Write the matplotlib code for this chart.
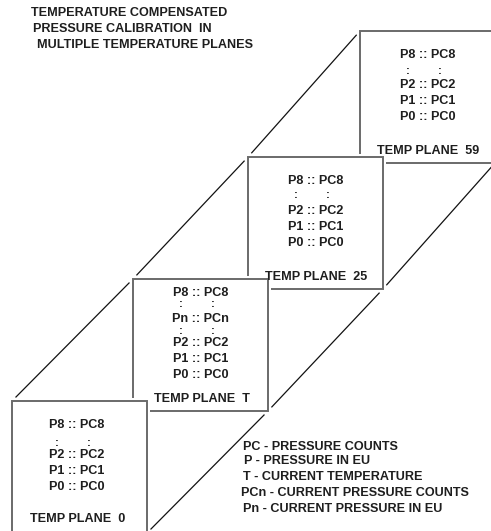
import matplotlib
matplotlib.use("Agg")
import matplotlib.pyplot as plt
from matplotlib.patches import Rectangle
import numpy as np

# ---- content ----
title_lines = ["TEMPERATURE COMPENSATED", "PRESSURE CALIBRATION  IN", "MULTIPLE TEMPERATURE PLANES"]
plane_labels = ["TEMP PLANE  0", "TEMP PLANE  T", "TEMP PLANE  25", "TEMP PLANE  59"]
rows_plane_0 = ["P8 :: PC8", ":", "P2 :: PC2", "P1 :: PC1", "P0 :: PC0"]
rows_plane_T = ["P8 :: PC8", ":", "Pn :: PCn", ":", "P2 :: PC2", "P1 :: PC1", "P0 :: PC0"]
rows_plane_25 = ["P8 :: PC8", ":", "P2 :: PC2", "P1 :: PC1", "P0 :: PC0"]
rows_plane_59 = ["P8 :: PC8", ":", "P2 :: PC2", "P1 :: PC1", "P0 :: PC0"]
legend_lines = ["PC - PRESSURE COUNTS", "P - PRESSURE IN EU", "T - CURRENT TEMPERATURE",
                "PCn - CURRENT PRESSURE COUNTS", "Pn - CURRENT PRESSURE IN EU"]

# ---- layout (pixel coordinates) ----
W, H = 491, 531
fig = plt.figure(figsize=(W / 100, H / 100), dpi=100)
ax = fig.add_axes([0, 0, 1, 1])
ax.set_xlim(0, W)
ax.set_ylim(H, 0)
ax.axis("off")

FAM = ["Liberation Sans", "DejaVu Sans"]
FS = 9.1
CAP = 4.5  # half cap height in px

def txt(x, y, s, ha="center", fs=FS, dy=CAP):
    ax.text(x, y + dy, s, ha=ha, va="baseline", zorder=20, family=FAM,
            weight="bold", color="#1e1e1e", fontsize=fs)

box_w, box_h = 135, 132
box_tl = [(12, 401), (133, 279), (248, 157), (360, 31)]
rows_all = [rows_plane_0, rows_plane_T, rows_plane_25, rows_plane_59]
row_offsets = [
    [23, 41, 53, 69, 85],
    [13, 24, 38, 51, 63, 79, 95],
    [22, 37, 53, 68, 84],
    [23, 39, 52, 68, 84],
]
label_offsets = [116, 118, 119, 119]
text_dx = [-3, 0, 0, 0]

# diagonal connecting lines with small gaps near the corners
def chain(points, shrink=5):
    for (x0, y0), (x1, y1) in zip(points[:-1], points[1:]):
        d = np.hypot(x1 - x0, y1 - y0)
        ux, uy = (x1 - x0) / d, (y1 - y0) / d
        ax.plot([x0 + ux * shrink, x1 - ux * shrink], [y0 + uy * shrink, y1 - uy * shrink],
                color="#111111", lw=0.9, zorder=1, solid_capstyle="butt")

tl = [(x, y) for x, y in box_tl]
br = [(x + box_w, y + box_h) for x, y in box_tl]
chain(tl)
chain(br)

# boxes from back to front
halo = 3
for i in reversed(range(len(box_tl))):
    x, y = box_tl[i]
    z = 5 + (len(box_tl) - i) * 2
    ax.add_patch(Rectangle((x - halo, y - halo), box_w + 2 * halo, box_h + 2 * halo,
                           facecolor="white", edgecolor="none", zorder=z))
    ax.add_patch(Rectangle((x, y), box_w, box_h, facecolor="white",
                           edgecolor="#6a6a6a", lw=1.4, zorder=z + 1))

for i, (x, y) in enumerate(box_tl):
    cx = x + box_w / 2 + text_dx[i]
    for s, off in zip(rows_all[i], row_offsets[i]):
        if s == ":":
            txt(cx - 20, y + off, ":", fs=8.2, dy=3.6)
            txt(cx + 12, y + off, ":", fs=8.2, dy=3.6)
        else:
            txt(cx, y + off, s)
    txt(cx + 1, y + label_offsets[i], plane_labels[i])

# title
title_x = [31, 33, 37]
title_y = [12, 28, 43]
for s, x, y in zip(title_lines, title_x, title_y):
    txt(x, y, s, ha="left")

# legend
leg_x = [243, 244, 243, 241, 243]
leg_y = [445, 460, 476, 491, 507]
for s, x, y in zip(legend_lines, leg_x, leg_y):
    txt(x, y, s, ha="left")

fig.savefig("out.png", dpi=100)
